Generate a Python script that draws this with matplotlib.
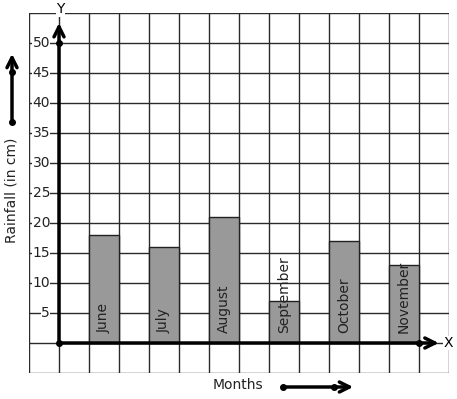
import numpy as np
import matplotlib
matplotlib.use("Agg")
import matplotlib.pyplot as plt

# ------------------- ДАННЫЕ -------------------
months = ["June", "July", "August", "September", "October", "November"]
rainfall = [18, 16, 21, 7, 17, 13]
y_ticks = [5, 10, 15, 20, 25, 30, 35, 40, 45, 50]

W, H = 457, 399
fig = plt.figure(figsize=(W / 100, H / 100), dpi=100)
# сетка: x 29..449 px, y 13..373 px (сверху)
ax = fig.add_axes([29 / W, 26 / H, 420 / W, 360 / H])
ax.set_xlim(-1, 13)
ax.set_ylim(-5, 55)

# сетка клеток
grid_c = "#2a2a2a"
for gx in range(-1, 14):
    ax.axvline(gx, color=grid_c, lw=1.0, zorder=1)
for gy in range(-5, 56, 5):
    ax.axhline(gy, color=grid_c, lw=1.0, zorder=1)
for s in ax.spines.values():
    s.set_visible(False)
ax.set_xticks([]); ax.set_yticks([])

# столбики
xpos = np.arange(len(months)) * 2 + 1.5
ax.bar(xpos, rainfall, width=1.0, color="#999999", edgecolor="#222222", lw=1.0, zorder=2)
for x, m in zip(xpos, months):
    ax.text(x, 1.7, m, rotation=90, ha="center", va="bottom", fontsize=10,
            color="#222222", zorder=3)

# подписи оси Y
for t in y_ticks:
    ax.text(-0.3, t, str(t), ha="right", va="center", fontsize=10, color="#222222",
            bbox=dict(facecolor="white", edgecolor="none", pad=0.1), zorder=4)

# оси со стрелками
ax.annotate("", xy=(12.75, 0), xytext=(0, 0),
            arrowprops=dict(arrowstyle="->", lw=2.5, color="black", mutation_scale=18),
            zorder=5)
ax.annotate("", xy=(0, 53.8), xytext=(0, 0),
            arrowprops=dict(arrowstyle="->", lw=2.5, color="black", mutation_scale=18),
            zorder=5)
ax.plot([0, 0, 12], [0, 50, 0], "o", color="black", ms=4, zorder=6, clip_on=False)
ax.text(12.97, 0, "X", ha="center", va="center", fontsize=10,
        bbox=dict(facecolor="white", edgecolor="none", pad=0.1), zorder=4)
ax.text(0.05, 55.6, "Y", ha="center", va="center", fontsize=10, clip_on=False,
        bbox=dict(facecolor="white", edgecolor="none", pad=0.1), zorder=4)

# подписи за пределами сетки
fig.text(12 / W, 1 - 190 / H, "Rainfall (in cm)", rotation=90, ha="center", va="center",
         fontsize=10, color="#222222")
fig.text(238 / W, 1 - 385 / H, "Months", ha="center", va="center", fontsize=10,
         color="#222222")

# стрелка слева (вверх)
fig.add_artist(matplotlib.patches.FancyArrowPatch(
    (12, H - 122), (12, H - 51), transform=None, arrowstyle="->", lw=2.5,
    color="black", mutation_scale=18))
fig.add_artist(plt.Line2D([12, 12], [H - 122, H - 72], transform=None, ls="none",
                          marker="o", ms=4, color="black"))
# стрелка снизу (вправо)
fig.add_artist(matplotlib.patches.FancyArrowPatch(
    (283, H - 387), (356, H - 387), transform=None, arrowstyle="->", lw=2.5,
    color="black", mutation_scale=18))
fig.add_artist(plt.Line2D([283, 334], [H - 387, H - 387], transform=None, ls="none",
                          marker="o", ms=4, color="black"))

fig.savefig("out.png", dpi=100)
